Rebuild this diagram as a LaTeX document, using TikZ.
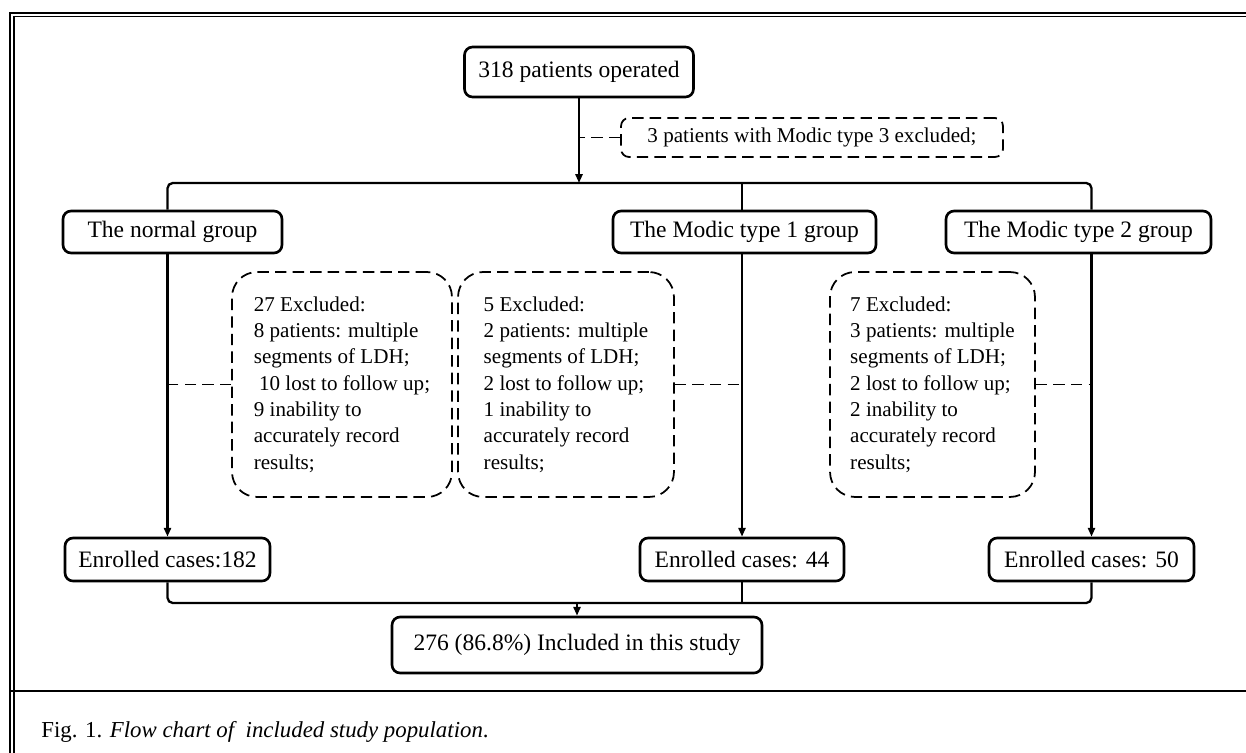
\documentclass[tikz,border=0pt]{standalone}
\usepackage{fontspec}
\setmainfont{Liberation Serif}
\usetikzlibrary{arrows.meta}

\begin{document}
\begin{tikzpicture}[x=0.02cm, y=-0.02cm, >={Triangle[length=5pt,width=4pt]},
	box/.style = {draw, line width=1.5pt, rounded corners=0.16cm, minimum height=0.84cm, inner sep=0pt, font=\fontsize{13.4}{16}\selectfont},
	exbox/.style = {draw, line width=1pt, dash pattern=on 6.5pt off 3.5pt, rounded corners=0.5cm, minimum height=4.5cm, inner sep=0pt, align=left, font=\fontsize{12}{15}\selectfont},
	conn/.style = {line width=1.3pt, rounded corners=3pt},
	dline/.style = {line width=1pt, dash pattern=on 6.5pt off 3.5pt}]
	\useasboundingbox (0,0) rectangle (1246,753);

	% frame and caption
	\draw[line width=1.5pt] (10,753) -- (10,13) -- (1246,13);
	\draw[line width=0.6pt] (14,753) -- (14,16.5) -- (1246,16.5);
	\draw[line width=1.5pt] (10,691) -- (1246,691);
	\node (cap) at (41,737) [anchor=base west, inner sep=0pt, font=\fontsize{13}{15}\selectfont] {Fig. 1. \textit{Flow chart of\ \ included study population}.};

	% boxes
	\node (Op)  at (579, 72)	[box, minimum width=4.58cm, minimum height=1.0cm]	{318 patients operated};
	\node (Ex3) at (812, 137.5)	[box, line width=1pt, dash pattern=on 6.5pt off 3.5pt, minimum width=7.64cm, minimum height=0.78cm, font=\fontsize{12}{14}\selectfont]	{3 patients with Modic type 3 excluded;};
	\node (N)   at (172.5, 232)	[box, minimum width=4.38cm]	{The normal group};
	\node (M1)  at (744.5, 232)	[box, minimum width=5.26cm]	{The Modic type 1 group};
	\node (M2)  at (1078.5, 232)	[box, minimum width=5.3cm]	{The Modic type 2 group};
	\node (X1)  at (342, 384.5)	[exbox, minimum width=4.4cm]	{27 Excluded:\\8 patients: multiple\\segments of LDH;\\\hspace*{0.25em}10 lost to follow up;\\9 inability to\\accurately record\\results;};
	\node (X2)  at (566, 384.5)	[exbox, minimum width=4.32cm]	{5 Excluded:\\2 patients: multiple\\segments of LDH;\\2 lost to follow up;\\1 inability to\\accurately record\\results;};
	\node (X3)  at (932.5, 384.5)	[exbox, minimum width=4.1cm]	{7 Excluded:\\3 patients: multiple\\segments of LDH;\\2 lost to follow up;\\2 inability to\\accurately record\\results;};
	\node (E1)  at (167.5, 559.5)	[box, minimum width=4.1cm, minimum height=0.86cm]	{Enrolled cases:182};
	\node (E2)  at (742, 559.5)	[box, minimum width=4.08cm, minimum height=0.86cm]	{Enrolled cases: 44};
	\node (E3)  at (1091.5, 559.5)	[box, minimum width=4.1cm, minimum height=0.86cm]	{Enrolled cases: 50};
	\node (F)   at (577, 645)	[box, minimum width=7.4cm, minimum height=1.12cm]	{276 (86.8\%) Included in this study};

	\coordinate (split) at (579, 183);
	\coordinate (merge) at (577, 603);

	% connectors
	\draw[conn, ->] (Op) -- (split);
	\draw[dline] (Ex3.west) -- (Ex3.west -| Op);
	\draw[conn] (N.north -| E1) |- (split -| E3) -- (M2.north -| E3);
	\draw[conn] (split -| E2) -- (M1.north -| E2);
	\draw[conn, ->] (N.south -| E1) -- (E1.north);
	\draw[conn, ->] (M1.south -| E2) -- (E2.north);
	\draw[conn, ->] (M2.south -| E3) -- (E3.north);
	\draw[dline] (X1.west) -- (X1.west -| E1);
	\draw[dline] (X2.east) -- (X2.east -| E2);
	\draw[dline] (X3.east) -- (X3.east -| E3);
	\draw[conn] (E1.south) |- (merge -| E3) -- (E3.south);
	\draw[conn] (E2.south) -- (merge -| E2);
	\draw[conn, ->] (merge) -- (F);
\end{tikzpicture}
\end{document}
